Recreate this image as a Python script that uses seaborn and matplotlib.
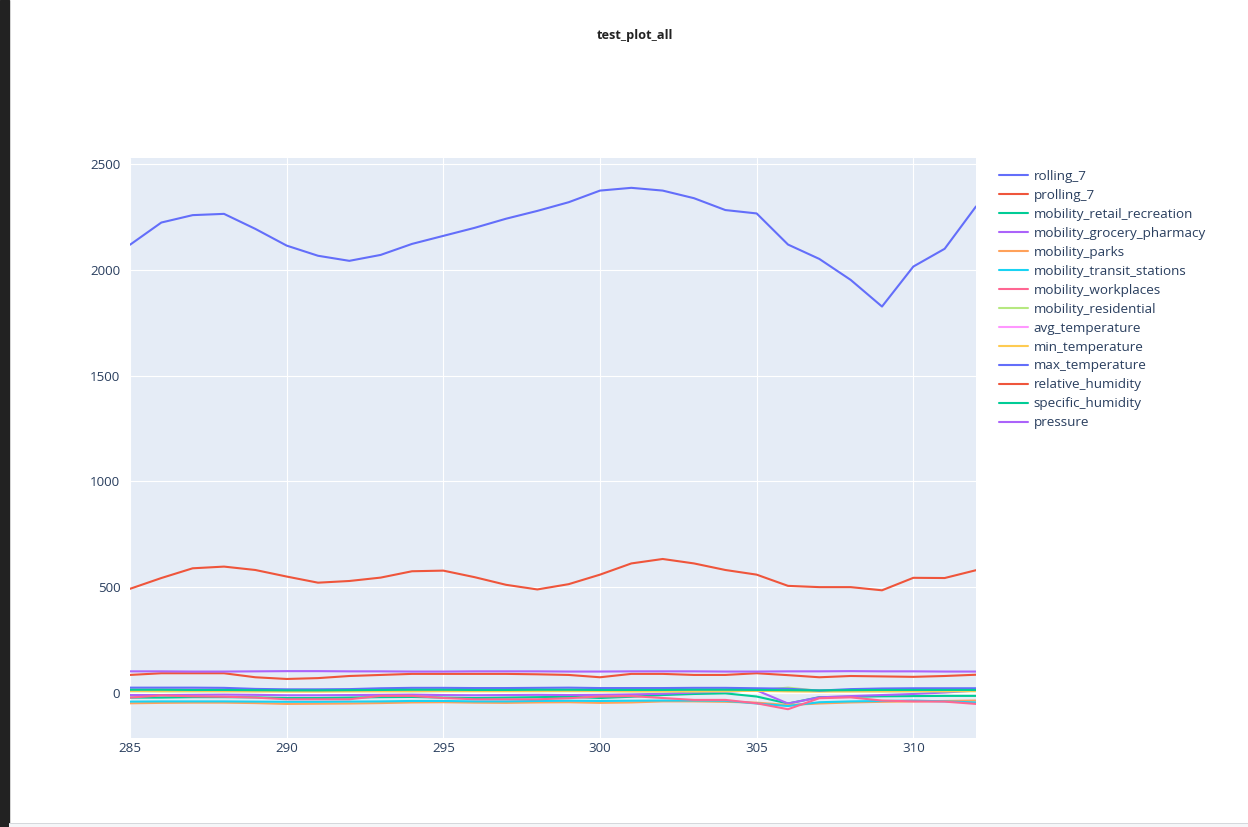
import pandas as pd
import seaborn as sns
import matplotlib.pyplot as plt
from matplotlib.patches import Rectangle

days = list(range(285, 313))

rolling_7 = [2118, 2223, 2258, 2264, 2193, 2114, 2066, 2042, 2070, 2122, 2160, 2198, 2241, 2278,
             2319, 2374, 2387, 2374, 2338, 2282, 2266, 2119, 2051, 1952, 1826, 2015, 2099, 2299]
prolling_7 = [492, 543, 589, 597, 581, 550, 521, 529, 545, 575, 578, 547, 511, 489,
              514, 559, 612, 633, 612, 581, 559, 506, 500, 500, 485, 544, 543, 580]
mobility_retail_recreation = [-22, -22, -20, -20, -21, -24, -24, -22, -20, -19, -22, -24, -22, -20,
                              -18, -24, -18, -10, -5, -2, -17, -50, -20, -18, -16, -15, -14, -14]
mobility_grocery_pharmacy = [-10, -10, -9, -8, -9, -11, -11, -10, -9, -8, -10, -11, -10, -9,
                             -10, -9, -7, -4, 2, 6, 12, -50, -21, -15, -10, -5, 2, 11]
mobility_parks = [-49, -47, -46, -46, -48, -52, -51, -50, -48, -45, -44, -46, -47, -45,
                  -44, -47, -45, -40, -40, -42, -46, -57, -50, -45, -42, -40, -38, -36]
mobility_transit_stations = [-41, -40, -40, -40, -41, -42, -42, -41, -40, -38, -38, -40, -40, -38,
                             -37, -38, -37, -36, -36, -37, -50, -62, -44, -40, -38, -36, -40, -45]
mobility_workplaces = [-22, -12, -16, -18, -22, -30, -30, -30, -14, -14, -24, -30, -30, -30,
                       -25, -17, -15, -24, -33, -33, -49, -77, -25, -21, -36, -40, -41, -52]
mobility_residential = [8, 7, 7, 7, 8, 10, 10, 9, 8, 7, 8, 9, 9, 8,
                        8, 8, 7, 7, 6, 7, 12, 25, 10, 8, 7, 7, 7, 8]
avg_temperature = [16, 17, 17, 16, 14, 13, 13, 14, 15, 16, 16, 15, 15, 16,
                   17, 16, 15, 15, 16, 17, 17, 14, 13, 14, 15, 16, 16, 17]
min_temperature = [9, 10, 10, 9, 7, 6, 6, 7, 8, 9, 9, 8, 8, 9,
                   10, 9, 8, 8, 9, 10, 10, 7, 6, 7, 8, 9, 9, 10]
max_temperature = [25, 25, 25, 24, 19, 17, 17, 18, 22, 24, 24, 23, 23, 24,
                   25, 23, 23, 23, 24, 24, 22, 20, 11, 18, 21, 22, 22, 22]
relative_humidity = [85, 93, 93, 93, 74, 66, 70, 80, 85, 90, 90, 90, 90, 88,
                     85, 74, 90, 90, 85, 85, 93, 84, 74, 80, 78, 76, 80, 86]
specific_humidity = [15, 15, 14, 14, 13, 12, 12, 13, 14, 15, 15, 14, 14, 15,
                     15, 14, 14, 14, 15, 15, 14, 13, 12, 13, 14, 14, 14, 14]
pressure = [102, 102, 101, 101, 102, 103, 103, 102, 102, 101, 101, 102, 102, 102,
            101, 101, 102, 102, 102, 101, 101, 102, 102, 103, 102, 102, 101, 101]

series = {
    'rolling_7': rolling_7,
    'prolling_7': prolling_7,
    'mobility_retail_recreation': mobility_retail_recreation,
    'mobility_grocery_pharmacy': mobility_grocery_pharmacy,
    'mobility_parks': mobility_parks,
    'mobility_transit_stations': mobility_transit_stations,
    'mobility_workplaces': mobility_workplaces,
    'mobility_residential': mobility_residential,
    'avg_temperature': avg_temperature,
    'min_temperature': min_temperature,
    'max_temperature': max_temperature,
    'relative_humidity': relative_humidity,
    'specific_humidity': specific_humidity,
    'pressure': pressure,
}
names = list(series.keys())
plotly_colors = ['#636EFA', '#EF553B', '#00CC96', '#AB63FA', '#FFA15A', '#19D3F3',
                 '#FF6692', '#B6E880', '#FF97FF', '#FECB52']
palette = {n: plotly_colors[i % len(plotly_colors)] for i, n in enumerate(names)}

df = pd.DataFrame({'day': days, **series}).melt(id_vars='day', var_name='variable', value_name='value')

sns.set_theme(style='darkgrid', rc={'axes.facecolor': '#E5ECF6', 'grid.color': 'white',
                                    'grid.linewidth': 0.8})
plt.rcParams['font.family'] = ['Open Sans', 'DejaVu Sans']

fig = plt.figure(figsize=(12.48, 8.27), dpi=100)
ax = fig.add_axes([130 / 1248, 1 - 738 / 827, 846 / 1248, 580 / 827])

ax.axhline(0, color='white', lw=1.6, zorder=1)
sns.lineplot(data=df, x='day', y='value', hue='variable', hue_order=names,
             palette=palette, linewidth=1.5, ax=ax, zorder=3)

ax.set_xlim(285, 312)
ax.set_ylim(-213, 2528)
ax.set_xticks([285, 290, 295, 300, 305, 310])
ax.set_yticks([0, 500, 1000, 1500, 2000, 2500])
ax.set_xlabel('')
ax.set_ylabel('')
ax.tick_params(axis='both', length=0, labelsize=9.6, labelcolor='#2a3f5f')
ax.tick_params(axis='y', pad=7)
ax.tick_params(axis='x', pad=3)
for s in ax.spines.values():
    s.set_visible(False)

sns.move_legend(ax, 'upper left', bbox_to_anchor=(1.027, 0.979), frameon=False, title=None,
                handlelength=2.2, handletextpad=0.4, labelspacing=0.44,
                borderaxespad=0, borderpad=0, fontsize=9.7)
for t in ax.get_legend().get_texts():
    t.set_color('#2a3f5f')

fig.text(635 / 1248, 1 - 36 / 827, 'test_plot_all', ha='center', va='center',
         fontsize=9.2, fontweight='bold', color='#222222')

# screenshot edges
fig.patches.append(Rectangle((0, 0), 8.5 / 1248, 1, transform=fig.transFigure,
                             color='#222222', zorder=0))
fig.patches.append(Rectangle((8.5 / 1248, 0), 1, 3.5 / 827, transform=fig.transFigure,
                             facecolor='#f5f6f8', edgecolor='none', zorder=0))
fig.patches.append(Rectangle((8.5 / 1248, 3.5 / 827), 1, 1 / 827, transform=fig.transFigure,
                             facecolor='#d5d8dc', edgecolor='none', zorder=0))

fig.savefig('out.png', dpi=100)
